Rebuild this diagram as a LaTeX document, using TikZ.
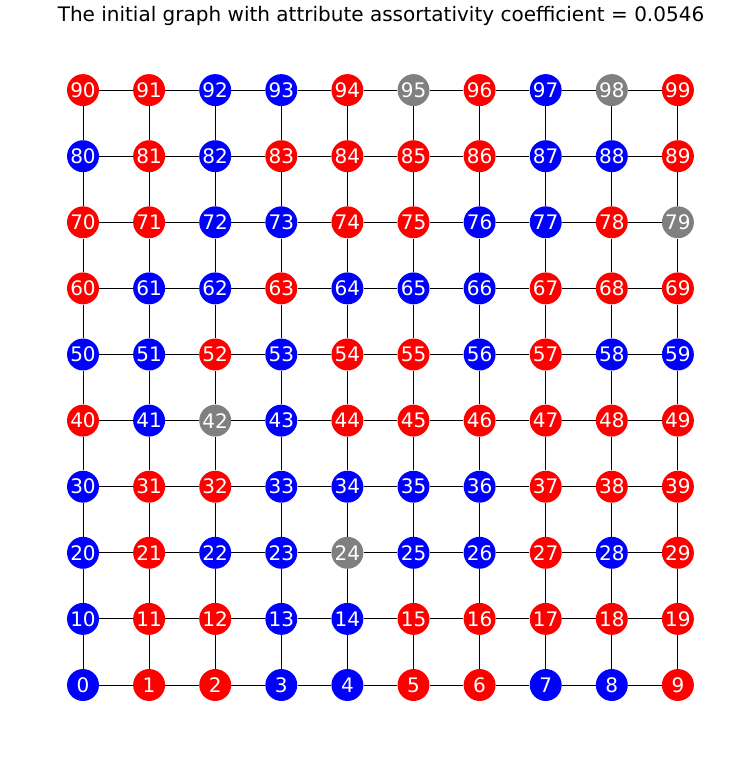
\documentclass[tikz,border=0pt]{standalone}
\usepackage{fontspec}
\setmainfont{DejaVu Sans}
\definecolor{B}{RGB}{0,0,255}
\definecolor{R}{RGB}{255,0,0}
\definecolor{G}{RGB}{128,128,128}
\tikzset{
    vert/.style={circle, minimum size=23pt, inner sep=0pt, text=white,
        font=\fontsize{14.4}{16}\selectfont},
    edge/.style={black, line width=0.7pt}
}
\begin{document}
\begin{tikzpicture}[x=0.72pt,y=-0.72pt]
    \useasboundingbox (0,0) rectangle (751,772);

    \node[anchor=base, font=\fontsize{14.4}{16}\selectfont] (title) at (381,22)
        {The initial graph with attribute assortativity coefficient = 0.0546};

    % vertices, row by row from the bottom
    \foreach \r/\cols in {
        0/{B,R,R,B,B,R,R,B,B,R},
        1/{B,R,R,B,B,R,R,R,R,R},
        2/{B,R,B,B,G,B,B,R,B,R},
        3/{B,R,R,B,B,B,B,R,R,R},
        4/{R,B,G,B,R,R,R,R,R,R},
        5/{B,B,R,B,R,R,B,R,B,B},
        6/{R,B,B,R,B,B,B,R,R,R},
        7/{R,R,B,B,R,R,B,B,R,G},
        8/{B,R,B,R,R,R,R,B,B,R},
        9/{R,R,B,B,R,G,R,B,G,R}} {
        \foreach \c [count=\k from 0] in \cols {
            \pgfmathtruncatemacro{\idx}{10*\r+\k}
            \node[vert, fill=\c] (n\idx) at ({83+66.1*\k},{685-66.1*\r}) {\idx};
        }
    }

    % grid edges
    \foreach \r in {0,...,9} {
        \foreach \k in {0,...,8} {
            \pgfmathtruncatemacro{\a}{10*\r+\k}
            \pgfmathtruncatemacro{\b}{\a+1}
            \draw[edge] (n\a) -- (n\b);
        }
    }
    \foreach \r in {0,...,8} {
        \foreach \k in {0,...,9} {
            \pgfmathtruncatemacro{\a}{10*\r+\k}
            \pgfmathtruncatemacro{\b}{\a+10}
            \draw[edge] (n\a) -- (n\b);
        }
    }
\end{tikzpicture}
\end{document}
